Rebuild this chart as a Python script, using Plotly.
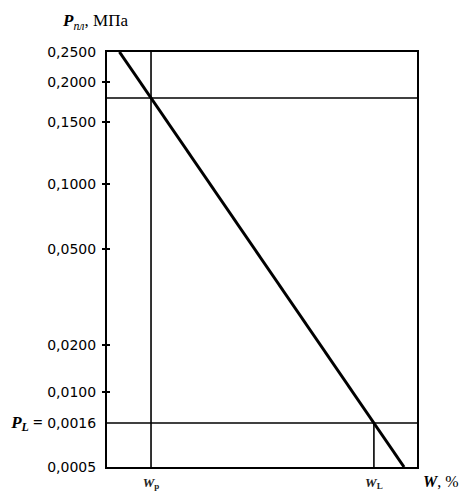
import numpy as np
import plotly.graph_objects as go

# Schematic (non-uniform) pressure scale: graduation values and their place on the scale
scale_P = [0.0005, 0.0016, 0.0100, 0.0200, 0.0500, 0.1000, 0.1500, 0.2000, 0.2500]
scale_u = [0, 44, 75, 122, 218, 283, 345, 385, 415]
tick_labels = ["0,0005", "<span style='font-family:Liberation Serif;font-size:17px'><b><i>P</i><sub><i>L</i></sub> =</b></span> 0,0016",
               "0,0100", "0,0200", "0,0500", "0,1000", "0,1500", "0,2000", "0,2500"]
tick_marked = [0.0100, 0.0200, 0.0500, 0.1000, 0.1500, 0.2000]

# Moisture axis (schematic units)
W_range = [0, 10]
W_p = 1.42
W_L = 8.61
P_p = 0.18
P_L = 0.0016
x_tick_labels = ["<b><i>W</i><sub>p</sub></b>", "<b><i>W</i><sub>L</sub></b>"]


def u(P):
    return float(np.interp(P, scale_P, scale_u))


u_top, u_bot = scale_u[-1], scale_u[0]
# straight line through (W_p, P_p) and (W_L, P_L) on the schematic scale
slope = (u(P_L) - u(P_p)) / (W_L - W_p)
x_top = W_p + (u_top - u(P_p)) / slope
x_bot = W_p + (u_bot - u(P_p)) / slope

fig = go.Figure()
black = "black"
fig.add_trace(go.Scatter(x=[x_top, x_bot], y=[u_top, u_bot], mode="lines",
                         line=dict(color=black, width=3), showlegend=False, hoverinfo="skip"))
fig.add_trace(go.Scatter(x=[W_range[0], W_range[1]], y=[u(P_p), u(P_p)], mode="lines",
                         line=dict(color=black, width=1.6), showlegend=False, hoverinfo="skip"))
fig.add_trace(go.Scatter(x=[W_range[0], W_range[1]], y=[u(P_L), u(P_L)], mode="lines",
                         line=dict(color=black, width=1.6), showlegend=False, hoverinfo="skip"))
fig.add_trace(go.Scatter(x=[W_p, W_p], y=[u_bot, u_top], mode="lines",
                         line=dict(color=black, width=1.6), showlegend=False, hoverinfo="skip"))
fig.add_trace(go.Scatter(x=[W_L, W_L], y=[u_bot, u(P_L)], mode="lines",
                         line=dict(color=black, width=1.6), showlegend=False, hoverinfo="skip"))

yr = [u_bot, u_top]
fig.update_layout(
    width=459, height=483,
    margin=dict(l=99, r=50, t=44, b=24, autoexpand=False),
    paper_bgcolor="white", plot_bgcolor="white",
    font=dict(family="DejaVu Sans", size=14, color=black),
    xaxis=dict(range=W_range, showgrid=False, zeroline=False, showline=True, mirror=True,
               linecolor=black, linewidth=2, ticks="", tickvals=[W_p, W_L], ticktext=x_tick_labels,
               tickfont=dict(family="Liberation Serif", size=13, color="#222"), ticklabelstandoff=2),
    yaxis=dict(range=yr, showgrid=False, zeroline=False, showline=True, mirror=True,
               linecolor=black, linewidth=2, ticks="", tickvals=[u(p) for p in scale_P],
               ticktext=tick_labels, ticklabelstandoff=6),
    yaxis2=dict(range=yr, overlaying="y", side="left", anchor="x", showgrid=False, zeroline=False,
                showline=False, ticks="outside", ticklen=4, tickwidth=2, tickcolor=black,
                tickvals=[u(p) for p in tick_marked], showticklabels=False),
    yaxis3=dict(range=yr, overlaying="y", side="left", anchor="x", showgrid=False, zeroline=False,
                showline=False, ticks="inside", ticklen=3, tickwidth=2, tickcolor=black,
                tickvals=[u(p) for p in tick_marked], showticklabels=False),
    annotations=[
        dict(text="<b><i>P</i></b><sub><i>пл</i></sub>, МПа", xref="paper", yref="paper",
             x=-0.04, y=1.072, showarrow=False, xanchor="center", yanchor="middle",
             font=dict(family="Liberation Serif", size=17, color=black)),
        dict(text="<b><i>W</i></b>, %", xref="paper", yref="paper",
             x=1.078, y=-0.035, showarrow=False, xanchor="center", yanchor="middle",
             font=dict(family="Liberation Serif", size=16, color=black)),
    ],
)
# dummy traces to activate overlaying axes
fig.add_trace(go.Scatter(x=[None], y=[None], yaxis="y2", showlegend=False))
fig.add_trace(go.Scatter(x=[None], y=[None], yaxis="y3", showlegend=False))

fig.write_html("out.html")
